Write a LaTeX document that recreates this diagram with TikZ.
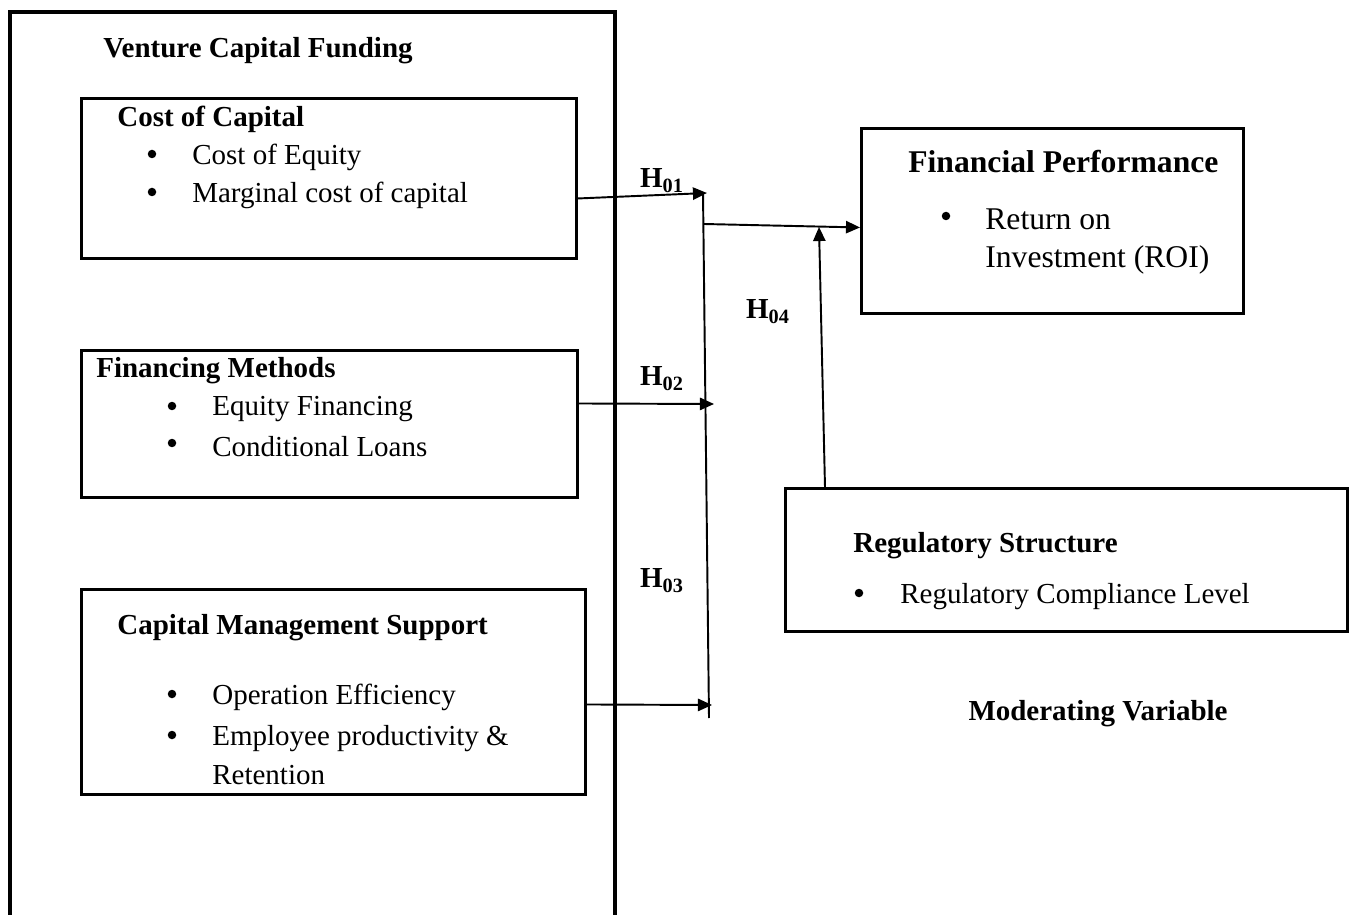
\documentclass[tikz,border=0pt]{standalone}
\usepackage{fontspec}
\setmainfont{Liberation Serif}
\usetikzlibrary{arrows.meta}
\tikzset{>={Triangle[length=8pt,width=7pt]}}
\tikzset{
  varbox/.style={draw, line width=1.7pt, anchor=north west, inner sep=0pt},
  lbl/.style={anchor=west, inner sep=0pt, yshift=-0.07cm, font=\fontsize{16.5}{20}\selectfont},
  hd/.style={lbl, font=\fontsize{16.5}{20}\selectfont\bfseries},
  dot/.style={circle, fill, inner sep=0pt, minimum size=0.17cm},
  link/.style={->, line width=1.1pt},
}
\begin{document}
\begin{tikzpicture}[x=0.02cm,y=-0.02cm]
  \useasboundingbox (0,0) rectangle (1352,915);
  % outer frame, open at the bottom
  \draw[line width=2.3pt] (10,915) -- (10,12) -- (615,12) -- (615,915);
  \node[hd] (vcf) at (103,47) {Venture Capital Funding};

  % independent variables
  \node[varbox, minimum width=9.9cm, minimum height=3.2cm] (coc) at (80,97) {};
  \node[hd] (coct) at (117,116) {Cost of Capital};
  \node[dot] at (152,154) {};
  \node[lbl] (coc1) at (192,154) {Cost of Equity};
  \node[dot] at (152,192) {};
  \node[lbl] (coc2) at (192,192) {Marginal cost of capital};

  \node[varbox, minimum width=9.92cm, minimum height=2.94cm] (fin) at (80,349) {};
  \node[hd] (fint) at (96,367) {Financing Methods};
  \node[dot] at (172,406) {};
  \node[lbl] (fin1) at (212,406) {Equity Financing};
  \node[dot] at (172,443) {};
  \node[lbl] (fin2) at (212,443) {Conditional Loans};

  \node[varbox, minimum width=10.08cm, minimum height=4.1cm] (cms) at (80,588) {};
  \node[hd] (cmst) at (117,624) {Capital Management Support};
  \node[dot] at (172,694) {};
  \node[lbl] (cms1) at (212,694) {Operation Efficiency};
  \node[dot] at (172,735) {};
  \node[lbl] (cms2) at (212,735) {Employee productivity \&};
  \node[lbl] (cms3) at (212,772) {Retention};

  % dependent variable
  \node[varbox, minimum width=7.64cm, minimum height=3.7cm] (fp) at (860,127) {};
  \node[hd, font=\fontsize{18}{22}\selectfont\bfseries] (fpt) at (908,158) {Financial Performance};
  \node[dot] at (946,216) {};
  \node[lbl, font=\fontsize{18}{22}\selectfont] (fp1) at (985,216) {Return on};
  \node[lbl, font=\fontsize{18}{22}\selectfont] (fp2) at (985,256) {Investment (ROI)};

  % moderating variable
  \node[varbox, minimum width=11.24cm, minimum height=2.86cm] (reg) at (784,487) {};
  \node[hd] (regt) at (853,542) {Regulatory Structure};
  \node[dot] at (859,593) {};
  \node[lbl] (reg1) at (900,593) {Regulatory Compliance Level};
  \node[hd, anchor=center] (modv) at (1098,710) {Moderating Variable};

  % junction bar
  \coordinate (bartop) at (703,193);
  \coordinate (barbot) at (709,718);
  \coordinate (j1) at (707,193);
  \coordinate (j2) at (714,404);
  \coordinate (j3) at (712,705);
  \coordinate (j4) at (704,224);
  \coordinate (m4) at (819,227);
  \draw[line width=1.1pt] (bartop) -- (barbot);

  \draw[link] ([yshift=-0.4cm]coc.east) -- (j1);
  \draw[link] ([yshift=0.41cm]fin.east) -- (j2);
  \draw[link] ([yshift=-0.25cm]cms.east) -- (j3);
  \draw[link] (j4) -- ([yshift=-0.13cm]fp.west);
  \draw[link] ([xshift=0.82cm]reg.north west) -- (m4);

  \node[hd, anchor=center] (h1) at (662,177) {H\textsubscript{01}};
  \node[hd, anchor=center] (h2) at (662,375) {H\textsubscript{02}};
  \node[hd, anchor=center] (h3) at (662,577) {H\textsubscript{03}};
  \node[hd, anchor=center] (h4) at (768,308) {H\textsubscript{04}};
\end{tikzpicture}
\end{document}
